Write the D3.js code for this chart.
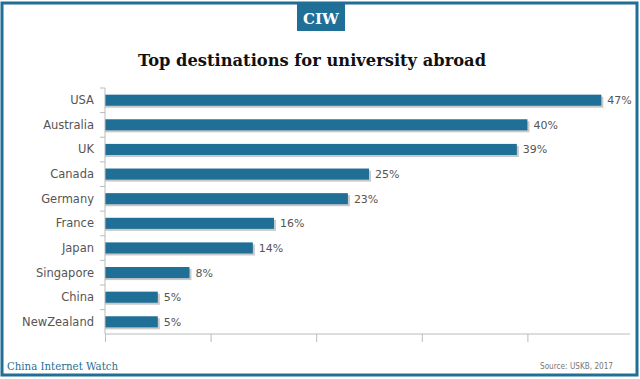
<!DOCTYPE html>
<html><head><meta charset="utf-8">
<script src="https://cdn.jsdelivr.net/npm/d3@7"></script>
<style>html,body{margin:0;padding:0;background:#fff;}svg{display:block;}</style>
</head><body>
<script>
const categories = ["USA","Australia","UK","Canada","Germany","France","Japan","Singapore","China","NewZealand"];
const values = [47,40,39,25,23,16,14,8,5,5];
const tickValues = [0,10,20,30,40,50];
const title = "Top destinations for university abroad";

const W = 640, H = 379;
const blue = "#1f6f96";
const svg = d3.select("body").append("svg").attr("width", W).attr("height", H);

// frame
svg.append("rect").attr("x", 2).attr("y", 3).attr("width", 635).attr("height", 372)
  .attr("fill", "none").attr("stroke", blue).attr("stroke-width", 3);

// CIW badge
svg.append("rect").attr("x", 297).attr("y", 4).attr("width", 48).attr("height", 27).attr("fill", blue);
svg.append("text").attr("x", 321).attr("y", 24).attr("text-anchor", "middle")
  .attr("font-family", "DejaVu Serif, serif").attr("font-weight", "bold").attr("font-size", 15)
  .attr("fill", "#fff").text("CIW");

svg.append("text").attr("x", 312).attr("y", 66).attr("text-anchor", "middle")
  .attr("font-family", "DejaVu Serif, serif").attr("font-weight", "bold").attr("font-size", 16.3)
  .attr("fill", "#111").text(title);

const x = d3.scaleLinear().domain([0, 50]).range([105, 633]);
const y = d3.scaleBand().domain(categories).range([88, 334]).paddingInner(0.55).paddingOuter(0.27);

// shadows
svg.append("g").selectAll("rect").data(values).join("rect")
  .attr("x", x(0)).attr("y", (d,i) => y(categories[i]) + 2)
  .attr("width", d => x(d) - x(0) + 2).attr("height", y.bandwidth())
  .attr("fill", "#c9c9c9");
svg.append("g").selectAll("rect").data(values).join("rect")
  .attr("x", x(0)).attr("y", (d,i) => y(categories[i]))
  .attr("width", d => x(d) - x(0)).attr("height", y.bandwidth())
  .attr("fill", blue);

// value labels
svg.append("g").selectAll("text").data(values).join("text")
  .attr("x", d => x(d) + 6).attr("y", (d,i) => y(categories[i]) + y.bandwidth()/2 + 4)
  .attr("font-family", "DejaVu Sans, sans-serif").attr("font-size", 11).attr("fill", "#555")
  .text(d => d + "%");

// y axis
const yAxisG = svg.append("g");
yAxisG.append("line").attr("x1", 105).attr("x2", 105).attr("y1", 88).attr("y2", 334).attr("stroke", "#bbb");
yAxisG.selectAll("line.t").data(d3.range(categories.length)).join("line").attr("class","t")
  .attr("x1", 100).attr("x2", 105).attr("y1", i => 88 + i*y.step()).attr("y2", i => 88 + i*y.step()).attr("stroke", "#bbb");
yAxisG.selectAll("text").data(categories).join("text")
  .attr("x", 94).attr("y", d => y(d) + y.bandwidth()/2 + 4).attr("text-anchor", "end")
  .attr("font-family", "DejaVu Sans, sans-serif").attr("font-size", 11.5).attr("fill", "#555")
  .text(d => d);

// x axis
const xAxis = d3.axisBottom(x).tickValues(tickValues).tickSize(8).tickFormat("");
const xg = svg.append("g").attr("transform", "translate(0,334)").call(xAxis);
xg.select(".domain").attr("stroke", "#bbb").attr("d", "M105,0H630");
xg.selectAll(".tick line").attr("stroke", "#bbb");
xg.selectAll(".tick").filter(d => d === 50).remove();

// footer
svg.append("text").attr("x", 7).attr("y", 370)
  .attr("font-family", "DejaVu Serif, serif").attr("font-size", 11.5)
  .attr("fill", blue).attr("textLength", 111).attr("lengthAdjust", "spacingAndGlyphs").text("China Internet Watch");
svg.append("text").attr("x", 613).attr("y", 369).attr("text-anchor", "end")
  .attr("font-family", "DejaVu Sans, sans-serif").attr("font-size", 8.5).attr("fill", "#777")
  .attr("textLength", 73).attr("lengthAdjust", "spacingAndGlyphs").text("Source: USKB, 2017");
</script>
</body></html>
